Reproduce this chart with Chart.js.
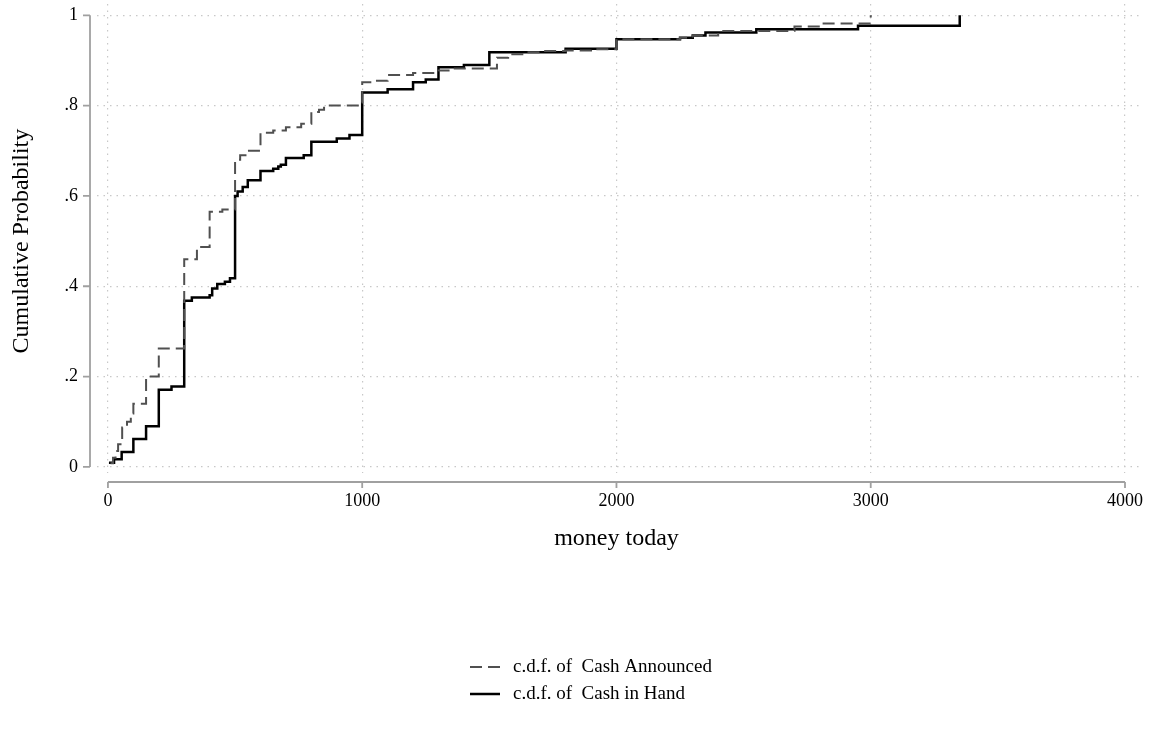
<!DOCTYPE html>
<html><head><meta charset="utf-8">
<script src="https://cdn.jsdelivr.net/npm/chart.js@4"></script>
<style>html,body{margin:0;padding:0;background:#fff;overflow:hidden}</style>
</head><body>
<canvas id="c" width="1156" height="729"></canvas>
<script>
// ---- data ----
const announcedX = [10, 20, 30, 40, 56, 75, 90, 100, 150, 200, 300, 350, 400, 450, 500, 520, 550, 600, 650, 700, 760, 800, 830, 850, 990, 1000, 1050, 1100, 1200, 1300, 1350, 1530, 1574, 1650, 1700, 1800, 1900, 2000, 2250, 2300, 2400, 2700, 2800, 3000];
const announcedY = [0.008, 0.02, 0.035, 0.05, 0.087, 0.1, 0.118, 0.14, 0.2, 0.262, 0.46, 0.487, 0.565, 0.57, 0.68, 0.69, 0.70, 0.74, 0.745, 0.752, 0.76, 0.786, 0.791, 0.8, 0.807, 0.852, 0.855, 0.868, 0.872, 0.878, 0.882, 0.906, 0.914, 0.918, 0.921, 0.922, 0.925, 0.947, 0.95, 0.955, 0.965, 0.975, 0.982, 1.0];
const handX = [4, 24, 54, 100, 150, 200, 250, 300, 330, 400, 410, 430, 460, 480, 500, 510, 530, 550, 600, 650, 670, 680, 700, 770, 800, 900, 950, 1000, 1100, 1200, 1250, 1300, 1400, 1500, 1800, 2000, 2250, 2300, 2350, 2550, 2950, 3350];
const handY = [0.009, 0.017, 0.033, 0.062, 0.09, 0.171, 0.178, 0.368, 0.375, 0.38, 0.395, 0.405, 0.41, 0.418, 0.60, 0.61, 0.62, 0.635, 0.655, 0.66, 0.665, 0.669, 0.684, 0.69, 0.72, 0.727, 0.735, 0.829, 0.836, 0.852, 0.858, 0.885, 0.89, 0.918, 0.926, 0.947, 0.95, 0.955, 0.962, 0.969, 0.977, 1.0];
const seriesNames = ['c.d.f. of  Cash Announced', 'c.d.f. of  Cash in Hand'];
const xTicks = [0, 1000, 2000, 3000, 4000];
const yTicks = [0, 0.2, 0.4, 0.6, 0.8, 1];
const yTickLabels = ['0', '.2', '.4', '.6', '.8', '1'];
const xTitle = 'money today';
const yTitle = 'Cumulative Probability';

// ---- style ----
const FONT = '"Liberation Serif", "Times New Roman", serif';
const AXIS_COLOR = '#a0a0a0';
const GRID_COLOR = '#c8c8c8';

const stataDecor = {
  id: 'stataDecor',
  afterDraw(chart) {
    const {ctx, chartArea: a, scales: {x, y}} = chart;
    ctx.save();
    ctx.setLineDash([]);
    ctx.strokeStyle = AXIS_COLOR;
    ctx.lineWidth = 1.8;
    // y axis (offset from plot region)
    const yax = a.left - 7;
    const yTop = y.getPixelForValue(yTicks[yTicks.length - 1]);
    const yBot = y.getPixelForValue(yTicks[0]);
    ctx.beginPath();
    ctx.moveTo(yax, yTop); ctx.lineTo(yax, yBot);
    yTicks.forEach(v => { const p = y.getPixelForValue(v); ctx.moveTo(yax - 7, p); ctx.lineTo(yax, p); });
    ctx.stroke();
    // x axis
    const xay = a.bottom + 9;
    const xL = x.getPixelForValue(xTicks[0]);
    const xR = x.getPixelForValue(xTicks[xTicks.length - 1]);
    ctx.beginPath();
    ctx.moveTo(xL, xay); ctx.lineTo(xR, xay);
    xTicks.forEach(v => { const p = x.getPixelForValue(v); ctx.moveTo(p, xay); ctx.lineTo(p, xay + 6); });
    ctx.stroke();
    // tick labels
    ctx.fillStyle = '#000';
    ctx.font = '18px ' + FONT;
    ctx.textAlign = 'right'; ctx.textBaseline = 'middle';
    yTicks.forEach((v, i) => ctx.fillText(yTickLabels[i], yax - 12, y.getPixelForValue(v)));
    ctx.textAlign = 'center'; ctx.textBaseline = 'middle';
    xTicks.forEach(v => ctx.fillText(String(v), x.getPixelForValue(v), xay + 19));
    // axis titles
    ctx.font = '24px ' + FONT;
    ctx.fillText(xTitle, (xL + xR) / 2, 539);
    ctx.save();
    ctx.translate(22, (yTop + yBot) / 2);
    ctx.rotate(-Math.PI / 2);
    ctx.fillText(yTitle, 0, 0);
    ctx.restore();
    // legend
    const rows = [667, 694];
    chart.data.datasets.forEach((ds, i) => {
      ctx.save();
      ctx.strokeStyle = ds.borderColor;
      ctx.lineWidth = ds.borderWidth;
      ctx.setLineDash(ds.borderDash || []);
      ctx.beginPath();
      ctx.moveTo(470, rows[i]); ctx.lineTo(500, rows[i]);
      ctx.stroke();
      ctx.restore();
      ctx.font = '19px ' + FONT;
      ctx.textAlign = 'left'; ctx.textBaseline = 'middle';
      ctx.fillStyle = '#000';
      ctx.fillText(ds.label, 513, rows[i]);
    });
    ctx.restore();
  }
};

new Chart(document.getElementById('c'), {
  type: 'line',
  data: {
    datasets: [
      {
        label: seriesNames[0],
        data: announcedX.map((v, i) => ({x: v, y: announcedY[i]})),
        borderColor: '#505050', borderWidth: 2, borderDash: [12, 6],
        stepped: 'before', pointRadius: 0, fill: false
      },
      {
        label: seriesNames[1],
        data: handX.map((v, i) => ({x: v, y: handY[i]})),
        borderColor: '#000000', borderWidth: 2.5,
        stepped: 'before', pointRadius: 0, fill: false
      }
    ]
  },
  options: {
    responsive: false,
    animation: false,
    devicePixelRatio: 1,
    layout: {padding: {left: 0, right: 16, top: 4, bottom: 216}},
    plugins: {legend: {display: false}, tooltip: {enabled: false}},
    scales: {
      x: {
        type: 'linear', min: -43, max: 4059,
        afterBuildTicks: s => { s.ticks = xTicks.map(v => ({value: v})); },
        afterFit: s => { s.height = 40; },
        ticks: {display: false},
        grid: {color: GRID_COLOR, lineWidth: 1.2, drawTicks: false},
        border: {display: false, dash: [1.5, 5]}
      },
      y: {
        type: 'linear', min: -0.0135, max: 1.025,
        afterBuildTicks: s => { s.ticks = yTicks.map(v => ({value: v})); },
        afterFit: s => { s.width = 97; },
        ticks: {display: false},
        grid: {color: GRID_COLOR, lineWidth: 1.2, drawTicks: false},
        border: {display: false, dash: [1.5, 5]}
      }
    }
  },
  plugins: [stataDecor]
});
</script>
</body></html>
